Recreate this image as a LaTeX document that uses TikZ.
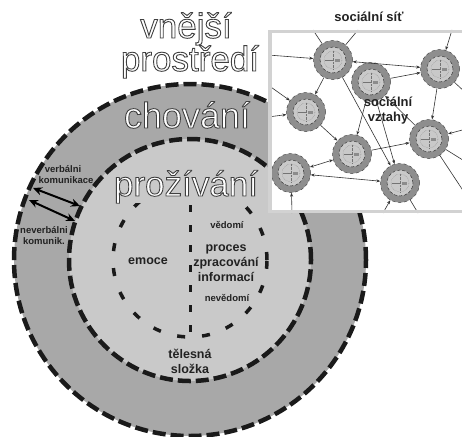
\documentclass[tikz,border=0pt]{standalone}
\usepackage{fontspec}
\setmainfont{Liberation Sans}
\usetikzlibrary{arrows.meta}
\definecolor{ringgray}{HTML}{A8A8A8}
\definecolor{coregray}{HTML}{C9C9C9}
\definecolor{netring}{HTML}{8E8E8E}
\definecolor{dashc}{HTML}{1A1A1A}
\definecolor{txtc}{HTML}{222222}
\definecolor{framec}{HTML}{D2D2D2}
\newcommand{\outlined}[1]{\textcolor{white}{\special{pdf:literal direct 2 Tr 0.9 w 0.25 G}#1\special{pdf:literal direct 0 Tr}}}
\tikzset{
  bigdash/.style={draw=dashc, line width=4.5pt, dash pattern=on 13pt off 5pt},
  sparsedash/.style={draw=dashc, line width=3.5pt, dash pattern=on 8pt off 17pt},
  vdash/.style={draw=dashc, line width=3pt, dash pattern=on 7pt off 13pt},
  bigtitle/.style={font=\fontsize{35}{40}\selectfont, inner sep=0pt, anchor=base},
  lbl/.style={font=\bfseries\fontsize{12.5}{14.5}\selectfont, text=txtc, align=center, inner sep=0pt, anchor=base},
  smalllbl/.style={font=\bfseries\fontsize{9.5}{10.5}\selectfont, text=txtc, align=center, inner sep=0pt, anchor=base},
  bigarrow/.style={{Stealth[length=9pt,width=8pt]}-{Stealth[length=9pt,width=8pt]}, line width=2pt, draw=black},
  net/.style={circle, minimum size=39pt, inner sep=0pt, fill=netring, draw=dashc!80, dashed, line width=0.5pt},
  ne/.style={draw=black!80, line width=0.6pt, -{Stealth[length=4pt,width=3pt]}},
  ne2/.style={draw=black!80, line width=0.6pt, {Stealth[length=4pt,width=3pt]}-{Stealth[length=4pt,width=3pt]}},
  pl/.style={draw=black!80, line width=0.6pt},
}
\begin{document}
\begin{tikzpicture}[x=1pt,y=-1pt]
\useasboundingbox (0,0) rectangle (462,436);
\fill[white] (0,0) rectangle (462,436);
\coordinate (C) at (190,260);
\fill[ringgray] (C) circle (176pt);
\fill[coregray] (C) circle (121pt);
\draw[bigdash] (C) circle (176pt);
\draw[bigdash] (C) circle (121pt);
\begin{scope}
\clip (0,203) rectangle (462,436);
\draw[sparsedash] (C) circle (77pt);
\end{scope}
\coordinate (vt) at (190,205);
\coordinate (vb) at (190,337);
\draw[vdash] (vt) -- (vb);

% titles
\node[bigtitle] (t1) at (186,38) {\outlined{vnější}};
\node[bigtitle] (t2) at (190,71) {\outlined{prostředí}};
\node[bigtitle, font=\fontsize{36}{40}\selectfont] (t3) at (187,128) {\outlined{chování}};
\node[bigtitle] (t4) at (186,196) {\outlined{prožívání}};

% labels
\node[smalllbl] (l1) at (63,172) {verbálni};
\node[smalllbl] (l2) at (66,183) {komunikace};
\node[smalllbl] (l3) at (44,233) {neverbálni};
\node[smalllbl] (l4) at (44,244) {komunik.};
\node[lbl] (l5) at (148,264) {emoce};
\node[smalllbl] (l6) at (227,228) {vědomí};
\node[lbl] (l7) at (226,251) {proces};
\node[lbl] (l8) at (226,266) {zpracování};
\node[lbl] (l9) at (226,281) {informací};
\node[smalllbl] (l10) at (227,301) {nevědomí};
\node[lbl] (l11) at (190,358) {tělesná};
\node[lbl] (l12) at (190,373) {složka};

% communication arrows
\coordinate (v1) at (33,188);
\coordinate (v2) at (80,206);
\coordinate (w1) at (29,200);
\coordinate (w2) at (75,221);
\draw[bigarrow] (v1) -- (v2);
\draw[bigarrow] (w1) -- (w2);

% inset social network
\node[font=\bfseries\fontsize{13}{14}\selectfont, text=txtc, anchor=base, inner sep=0pt] (st) at (369,22) {sociální síť};
\fill[white] (268,30) rectangle (480,213);
\begin{scope}
\clip (268,30) rectangle (480,213);
\node[net] (n1) at (333,60) {};
\node[net] (n2) at (371,82) {};
\node[net] (n3) at (440,69) {};
\node[net] (n4) at (306,112) {};
\node[net] (n5) at (429,139) {};
\node[net] (n6) at (352,154) {};
\node[net] (n7) at (291,173) {};
\node[net] (n8) at (400,183) {};
\foreach \n in {n1,n2,n3,n4,n5,n6,n7,n8}{
  \fill[coregray] (\n.center) circle (13pt);
  \draw[dashc, densely dashed, line width=0.4pt] (\n.center) circle (13pt);
  \draw[black!55, densely dotted, line width=0.35pt] (\n.center) circle (9pt);
  \draw[black!55, densely dotted, line width=0.35pt] ([yshift=9pt]\n.center) -- ([yshift=-9pt]\n.center);
  \draw[black!55, line width=0.3pt] ([xshift=-8pt]\n.center) -- (\n.center);
  \fill[black!45] ([xshift=2pt,yshift=-2pt]\n.center) rectangle ++(5pt,3pt);
}
\coordinate (a1) at (268,55);
\coordinate (a2) at (313,30);
\coordinate (a3) at (358,30);
\coordinate (a4) at (452,30);
\coordinate (a5) at (466,93);
\coordinate (a6) at (268,85);
\coordinate (a7) at (268,117);
\coordinate (a8) at (466,129);
\coordinate (a9) at (466,162);
\coordinate (a10) at (464,192);
\coordinate (a11) at (292,213);
\coordinate (a12) at (383,213);
\coordinate (a13) at (418,213);
\draw[ne] (a1) -- (n1);
\draw[pl] (a2) -- (n1);
\draw[pl] (a3) -- (n1);
\draw[ne2] (n1) -- (n3);
\draw[ne] (n1) -- (n4);
\draw[ne] (n1) -- (n8);
\draw[ne] (n2) -- (n3);
\draw[ne] (n2) -- (n6);
\draw[ne2] (n2) -- (n8);
\draw[ne] (n5) -- (n2);
\draw[ne] (n3) -- (n5);
\draw[ne] (a4) -- (n3);
\draw[pl] (n3) -- (a5);
\draw[ne] (a6) -- (n4);
\draw[ne] (a7) -- (n4);
\draw[ne] (n4) -- (n6);
\draw[ne] (n6) -- (n5);
\draw[ne2] (n6) -- (n7);
\draw[ne2] (n7) -- (n8);
\draw[ne] (a8) -- (n5);
\draw[pl] (n5) -- (a9);
\draw[pl] (n5) -- (a10);
\draw[ne] (a11) -- (n7);
\draw[ne] (a12) -- (n8);
\draw[pl] (n8) -- (a13);
\node[font=\bfseries\fontsize{13}{14.5}\selectfont, text=txtc, align=center, inner sep=0pt, anchor=base] (sv) at (388,121) {sociální\\vztahy};
\end{scope}
\draw[framec, line width=3.5pt] (269.75,31.75) rectangle (480,211.25);
\end{tikzpicture}
\end{document}
